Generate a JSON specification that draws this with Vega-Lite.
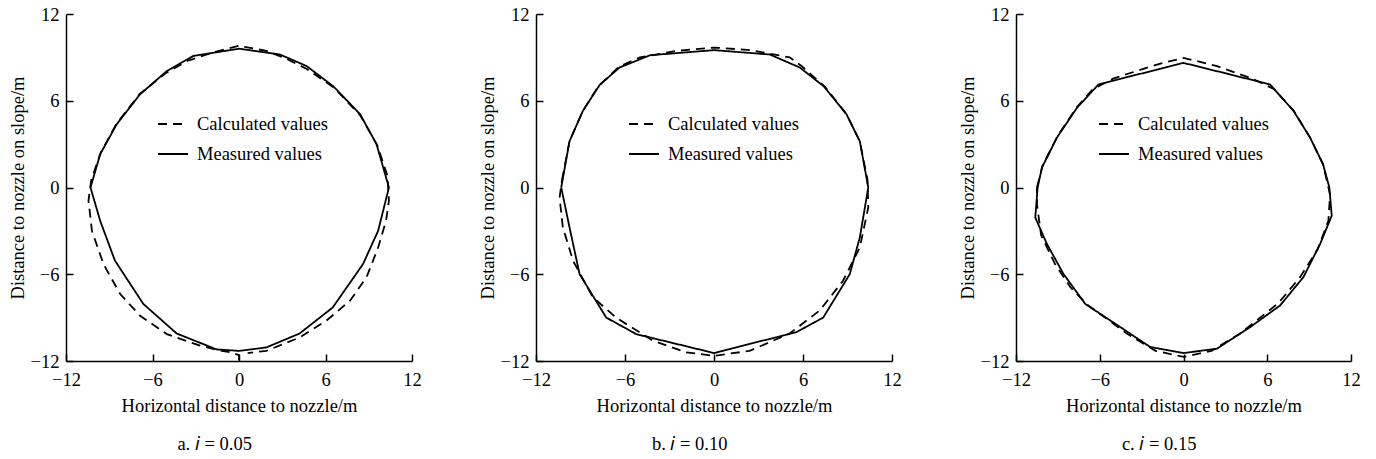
{
  "$schema": "https://vega.github.io/schema/vega-lite/v6.json",
  "padding": {"left": 8, "top": 5, "right": 5, "bottom": 5},
  "background": "white",
  "datasets": {
    "pts": [
      {"p":"a","s":"Measured values","o":1,"x":-10.3,"y":0},
      {"p":"a","s":"Measured values","o":2,"x":-9.63,"y":2.3},
      {"p":"a","s":"Measured values","o":3,"x":-8.48,"y":4.38},
      {"p":"a","s":"Measured values","o":4,"x":-6.86,"y":6.45},
      {"p":"a","s":"Measured values","o":5,"x":-5.0,"y":8.06},
      {"p":"a","s":"Measured values","o":6,"x":-3.16,"y":9.1},
      {"p":"a","s":"Measured values","o":7,"x":0,"y":9.6},
      {"p":"a","s":"Measured values","o":8,"x":2.84,"y":9.2},
      {"p":"a","s":"Measured values","o":9,"x":4.69,"y":8.4},
      {"p":"a","s":"Measured values","o":10,"x":6.54,"y":7.0},
      {"p":"a","s":"Measured values","o":11,"x":8.4,"y":5.07},
      {"p":"a","s":"Measured values","o":12,"x":9.54,"y":3.0},
      {"p":"a","s":"Measured values","o":13,"x":10.4,"y":0},
      {"p":"a","s":"Measured values","o":14,"x":9.65,"y":-3.0},
      {"p":"a","s":"Measured values","o":15,"x":8.6,"y":-5.3},
      {"p":"a","s":"Measured values","o":16,"x":6.5,"y":-8.3},
      {"p":"a","s":"Measured values","o":17,"x":4.2,"y":-10.1},
      {"p":"a","s":"Measured values","o":18,"x":1.9,"y":-11.06},
      {"p":"a","s":"Measured values","o":19,"x":0,"y":-11.3},
      {"p":"a","s":"Measured values","o":20,"x":-1.55,"y":-11.2},
      {"p":"a","s":"Measured values","o":21,"x":-4.32,"y":-10.1},
      {"p":"a","s":"Measured values","o":22,"x":-6.63,"y":-8.06},
      {"p":"a","s":"Measured values","o":23,"x":-8.6,"y":-5.07},
      {"p":"a","s":"Measured values","o":24,"x":-9.63,"y":-2.3},
      {"p":"a","s":"Measured values","o":25,"x":-10.3,"y":0},

      {"p":"a","s":"Calculated values","o":1,"x":0,"y":-11.95},
      {"p":"a","s":"Calculated values","o":2,"x":0,"y":-11.6},
      {"p":"a","s":"Calculated values","o":3,"x":-0.6,"y":-11.4},
      {"p":"a","s":"Calculated values","o":4,"x":-1.5,"y":-11.25},
      {"p":"a","s":"Calculated values","o":5,"x":-2.7,"y":-10.94},
      {"p":"a","s":"Calculated values","o":6,"x":-5.0,"y":-10.14},
      {"p":"a","s":"Calculated values","o":7,"x":-6.86,"y":-8.87},
      {"p":"a","s":"Calculated values","o":8,"x":-8.24,"y":-7.37},
      {"p":"a","s":"Calculated values","o":9,"x":-9.4,"y":-5.3},
      {"p":"a","s":"Calculated values","o":10,"x":-10.2,"y":-3.0},
      {"p":"a","s":"Calculated values","o":11,"x":-10.44,"y":-0.9},
      {"p":"a","s":"Calculated values","o":12,"x":-10.25,"y":0.5},
      {"p":"a","s":"Calculated values","o":13,"x":-9.6,"y":2.4},
      {"p":"a","s":"Calculated values","o":14,"x":-8.5,"y":4.4},
      {"p":"a","s":"Calculated values","o":15,"x":-6.9,"y":6.45},
      {"p":"a","s":"Calculated values","o":16,"x":-5.1,"y":7.9},
      {"p":"a","s":"Calculated values","o":17,"x":-3.6,"y":8.75},
      {"p":"a","s":"Calculated values","o":18,"x":-1.8,"y":9.35},
      {"p":"a","s":"Calculated values","o":19,"x":0,"y":9.8},
      {"p":"a","s":"Calculated values","o":20,"x":1.9,"y":9.45},
      {"p":"a","s":"Calculated values","o":21,"x":3.3,"y":8.9},
      {"p":"a","s":"Calculated values","o":22,"x":4.7,"y":8.2},
      {"p":"a","s":"Calculated values","o":23,"x":6.6,"y":6.9},
      {"p":"a","s":"Calculated values","o":24,"x":8.4,"y":5.0},
      {"p":"a","s":"Calculated values","o":25,"x":9.6,"y":2.9},
      {"p":"a","s":"Calculated values","o":26,"x":10.3,"y":0.8},
      {"p":"a","s":"Calculated values","o":27,"x":10.4,"y":-0.9},
      {"p":"a","s":"Calculated values","o":28,"x":10.2,"y":-2.3},
      {"p":"a","s":"Calculated values","o":29,"x":9.65,"y":-4.15},
      {"p":"a","s":"Calculated values","o":30,"x":8.85,"y":-6.2},
      {"p":"a","s":"Calculated values","o":31,"x":7.7,"y":-7.83},
      {"p":"a","s":"Calculated values","o":32,"x":6.07,"y":-9.2},
      {"p":"a","s":"Calculated values","o":33,"x":4.2,"y":-10.37},
      {"p":"a","s":"Calculated values","o":34,"x":1.9,"y":-11.3},
      {"p":"a","s":"Calculated values","o":35,"x":0.6,"y":-11.45},

      {"p":"b","s":"Measured values","o":1,"x":-10.3,"y":0},
      {"p":"b","s":"Measured values","o":2,"x":-9.74,"y":3.2},
      {"p":"b","s":"Measured values","o":3,"x":-8.84,"y":5.3},
      {"p":"b","s":"Measured values","o":4,"x":-7.7,"y":7.1},
      {"p":"b","s":"Measured values","o":5,"x":-6.37,"y":8.3},
      {"p":"b","s":"Measured values","o":6,"x":-4.3,"y":9.15},
      {"p":"b","s":"Measured values","o":7,"x":0,"y":9.5},
      {"p":"b","s":"Measured values","o":8,"x":3.76,"y":9.2},
      {"p":"b","s":"Measured values","o":9,"x":5.78,"y":8.3},
      {"p":"b","s":"Measured values","o":10,"x":7.4,"y":7.0},
      {"p":"b","s":"Measured values","o":11,"x":8.93,"y":5.07},
      {"p":"b","s":"Measured values","o":12,"x":9.83,"y":3.2},
      {"p":"b","s":"Measured values","o":13,"x":10.4,"y":0},
      {"p":"b","s":"Measured values","o":14,"x":9.83,"y":-3.46},
      {"p":"b","s":"Measured values","o":15,"x":9.15,"y":-6.0},
      {"p":"b","s":"Measured values","o":16,"x":7.36,"y":-9.0},
      {"p":"b","s":"Measured values","o":17,"x":5.56,"y":-10.0},
      {"p":"b","s":"Measured values","o":18,"x":0,"y":-11.45},
      {"p":"b","s":"Measured values","o":19,"x":-5.24,"y":-10.14},
      {"p":"b","s":"Measured values","o":20,"x":-7.26,"y":-9.0},
      {"p":"b","s":"Measured values","o":21,"x":-9.06,"y":-6.0},
      {"p":"b","s":"Measured values","o":22,"x":-9.74,"y":-2.76},
      {"p":"b","s":"Measured values","o":23,"x":-10.3,"y":0},

      {"p":"b","s":"Calculated values","o":1,"x":-10.25,"y":0.5},
      {"p":"b","s":"Calculated values","o":2,"x":-9.74,"y":3.2},
      {"p":"b","s":"Calculated values","o":3,"x":-8.84,"y":5.3},
      {"p":"b","s":"Calculated values","o":4,"x":-7.8,"y":7.0},
      {"p":"b","s":"Calculated values","o":5,"x":-6.4,"y":8.35},
      {"p":"b","s":"Calculated values","o":6,"x":-5.0,"y":9.0},
      {"p":"b","s":"Calculated values","o":7,"x":-2.5,"y":9.45},
      {"p":"b","s":"Calculated values","o":8,"x":0,"y":9.68},
      {"p":"b","s":"Calculated values","o":9,"x":2.5,"y":9.5},
      {"p":"b","s":"Calculated values","o":10,"x":5.1,"y":9.0},
      {"p":"b","s":"Calculated values","o":11,"x":5.9,"y":8.4},
      {"p":"b","s":"Calculated values","o":12,"x":7.5,"y":6.95},
      {"p":"b","s":"Calculated values","o":13,"x":8.93,"y":5.07},
      {"p":"b","s":"Calculated values","o":14,"x":9.83,"y":3.2},
      {"p":"b","s":"Calculated values","o":15,"x":10.35,"y":0.5},
      {"p":"b","s":"Calculated values","o":16,"x":10.4,"y":-1.38},
      {"p":"b","s":"Calculated values","o":17,"x":9.83,"y":-4.15},
      {"p":"b","s":"Calculated values","o":18,"x":8.7,"y":-6.45},
      {"p":"b","s":"Calculated values","o":19,"x":7.13,"y":-8.5},
      {"p":"b","s":"Calculated values","o":20,"x":5.1,"y":-10.1},
      {"p":"b","s":"Calculated values","o":21,"x":2.4,"y":-11.3},
      {"p":"b","s":"Calculated values","o":22,"x":0,"y":-11.64},
      {"p":"b","s":"Calculated values","o":23,"x":-1.87,"y":-11.4},
      {"p":"b","s":"Calculated values","o":24,"x":-4.12,"y":-10.6},
      {"p":"b","s":"Calculated values","o":25,"x":-6.6,"y":-9.0},
      {"p":"b","s":"Calculated values","o":26,"x":-8.16,"y":-7.6},
      {"p":"b","s":"Calculated values","o":27,"x":-9.5,"y":-5.07},
      {"p":"b","s":"Calculated values","o":28,"x":-10.19,"y":-2.76},
      {"p":"b","s":"Calculated values","o":29,"x":-10.41,"y":-0.7},
      {"p":"b","s":"Calculated values","o":30,"x":-10.25,"y":0.5},

      {"p":"c","s":"Measured values","o":1,"x":-10.45,"y":0},
      {"p":"c","s":"Measured values","o":2,"x":-10.14,"y":1.38},
      {"p":"c","s":"Measured values","o":3,"x":-9.07,"y":3.45},
      {"p":"c","s":"Measured values","o":4,"x":-7.64,"y":5.5},
      {"p":"c","s":"Measured values","o":5,"x":-6.09,"y":7.13},
      {"p":"c","s":"Measured values","o":6,"x":0,"y":8.62},
      {"p":"c","s":"Measured values","o":7,"x":6.2,"y":7.13},
      {"p":"c","s":"Measured values","o":8,"x":7.88,"y":5.3},
      {"p":"c","s":"Measured values","o":9,"x":9.07,"y":3.45},
      {"p":"c","s":"Measured values","o":10,"x":10.0,"y":1.6},
      {"p":"c","s":"Measured values","o":11,"x":10.45,"y":0},
      {"p":"c","s":"Measured values","o":12,"x":10.62,"y":-1.95},
      {"p":"c","s":"Measured values","o":13,"x":9.79,"y":-3.9},
      {"p":"c","s":"Measured values","o":14,"x":8.59,"y":-6.2},
      {"p":"c","s":"Measured values","o":15,"x":6.92,"y":-8.16},
      {"p":"c","s":"Measured values","o":16,"x":4.77,"y":-9.66},
      {"p":"c","s":"Measured values","o":17,"x":2.39,"y":-11.15},
      {"p":"c","s":"Measured values","o":18,"x":0,"y":-11.45},
      {"p":"c","s":"Measured values","o":19,"x":-2.39,"y":-11.03},
      {"p":"c","s":"Measured values","o":20,"x":-4.77,"y":-9.5},
      {"p":"c","s":"Measured values","o":21,"x":-7.04,"y":-8.05},
      {"p":"c","s":"Measured values","o":22,"x":-8.6,"y":-5.98},
      {"p":"c","s":"Measured values","o":23,"x":-9.79,"y":-3.9},
      {"p":"c","s":"Measured values","o":24,"x":-10.62,"y":-2.07},
      {"p":"c","s":"Measured values","o":25,"x":-10.45,"y":0},

      {"p":"c","s":"Calculated values","o":1,"x":-10.5,"y":0},
      {"p":"c","s":"Calculated values","o":2,"x":-10.1,"y":1.5},
      {"p":"c","s":"Calculated values","o":3,"x":-9.0,"y":3.6},
      {"p":"c","s":"Calculated values","o":4,"x":-7.6,"y":5.6},
      {"p":"c","s":"Calculated values","o":5,"x":-6.5,"y":6.8},
      {"p":"c","s":"Calculated values","o":6,"x":-5.0,"y":7.55},
      {"p":"c","s":"Calculated values","o":7,"x":-1.9,"y":8.5},
      {"p":"c","s":"Calculated values","o":8,"x":0,"y":8.97},
      {"p":"c","s":"Calculated values","o":9,"x":2.4,"y":8.4},
      {"p":"c","s":"Calculated values","o":10,"x":5.0,"y":7.5},
      {"p":"c","s":"Calculated values","o":11,"x":6.5,"y":6.8},
      {"p":"c","s":"Calculated values","o":12,"x":7.9,"y":5.3},
      {"p":"c","s":"Calculated values","o":13,"x":9.07,"y":3.45},
      {"p":"c","s":"Calculated values","o":14,"x":10.0,"y":1.6},
      {"p":"c","s":"Calculated values","o":15,"x":10.5,"y":-0.5},
      {"p":"c","s":"Calculated values","o":16,"x":10.38,"y":-2.3},
      {"p":"c","s":"Calculated values","o":17,"x":9.6,"y":-4.3},
      {"p":"c","s":"Calculated values","o":18,"x":8.35,"y":-6.2},
      {"p":"c","s":"Calculated values","o":19,"x":6.8,"y":-8.0},
      {"p":"c","s":"Calculated values","o":20,"x":4.06,"y":-10.1},
      {"p":"c","s":"Calculated values","o":21,"x":2.0,"y":-11.3},
      {"p":"c","s":"Calculated values","o":22,"x":0,"y":-11.72},
      {"p":"c","s":"Calculated values","o":23,"x":-2.0,"y":-11.3},
      {"p":"c","s":"Calculated values","o":24,"x":-4.06,"y":-10.1},
      {"p":"c","s":"Calculated values","o":25,"x":-6.9,"y":-8.1},
      {"p":"c","s":"Calculated values","o":26,"x":-8.1,"y":-6.9},
      {"p":"c","s":"Calculated values","o":27,"x":-9.2,"y":-5.3},
      {"p":"c","s":"Calculated values","o":28,"x":-10.2,"y":-3.3},
      {"p":"c","s":"Calculated values","o":29,"x":-10.5,"y":-1.15},
      {"p":"c","s":"Calculated values","o":30,"x":-10.5,"y":0}
    ]
  },
  "config": {
    "font": "Liberation Serif",
    "view": {"stroke": null},
    "axis": {
      "domainColor": "black", "domainWidth": 1.5,
      "tickColor": "black", "tickWidth": 1.5, "tickSize": -7,
      "grid": false,
      "labelFont": "Liberation Serif", "labelFontSize": 18.5, "labelColor": "black",
      "titleFont": "Liberation Serif", "titleFontSize": 18.5, "titleFontWeight": "normal", "titleColor": "black"
    },
    "axisX": {"labelPadding": 16, "titlePadding": 8, "labelFlush": false},
    "axisY": {"labelPadding": 14, "titlePadding": 3, "labelFlush": false},
    "legend": {
      "labelFont": "Liberation Serif", "labelFontSize": 18.5, "labelColor": "black",
      "symbolType": "stroke", "symbolSize": 900, "symbolStrokeWidth": 2, "symbolStrokeColor": "black",
      "labelOffset": 8, "rowPadding": 4, "padding": 0
    },
    "title": {"font": "Liberation Serif", "fontSize": 18.5, "fontWeight": "normal", "color": "black"}
  },
  "spacing": 56,
  "resolve": {"scale": {"strokeDash": "independent"}, "legend": {"strokeDash": "independent"}},
  "hconcat": [
    {
      "width": 346, "height": 347,
      "data": {"name": "pts"},
      "transform": [{"filter": "datum.p === 'a'"}],
      "title": {"text": "a. 𝑖 = 0.05", "orient": "bottom", "anchor": "middle", "frame": "bounds", "offset": 20},
      "mark": {"type": "line", "color": "black", "strokeWidth": 1.8},
      "encoding": {
        "x": {"field": "x", "type": "quantitative", "scale": {"domain": [-12, 12], "nice": false, "zero": false}, "axis": {"values": [-12, -6, 0, 6, 12], "title": "Horizontal distance to nozzle/m"}},
        "y": {"field": "y", "type": "quantitative", "scale": {"domain": [-12, 12], "nice": false, "zero": false}, "axis": {"values": [-12, -6, 0, 6, 12], "title": "Distance to nozzle on slope/m"}},
        "strokeDash": {"field": "s", "type": "nominal", "scale": {"domain": ["Calculated values", "Measured values"], "range": [[9, 6], [1, 0]]}, "legend": {"title": null, "orient": "none", "legendX": 91, "legendY": 94}},
        "order": {"field": "o", "type": "quantitative"}
      }
    },
    {
      "width": 356, "height": 347,
      "data": {"name": "pts"},
      "transform": [{"filter": "datum.p === 'b'"}],
      "title": {"text": "b. 𝑖 = 0.10", "orient": "bottom", "anchor": "middle", "frame": "bounds", "offset": 20},
      "mark": {"type": "line", "color": "black", "strokeWidth": 1.8},
      "encoding": {
        "x": {"field": "x", "type": "quantitative", "scale": {"domain": [-12, 12], "nice": false, "zero": false}, "axis": {"values": [-12, -6, 0, 6, 12], "title": "Horizontal distance to nozzle/m"}},
        "y": {"field": "y", "type": "quantitative", "scale": {"domain": [-12, 12], "nice": false, "zero": false}, "axis": {"values": [-12, -6, 0, 6, 12], "title": "Distance to nozzle on slope/m"}},
        "strokeDash": {"field": "s", "type": "nominal", "scale": {"domain": ["Calculated values", "Measured values"], "range": [[9, 6], [1, 0]]}, "legend": {"title": null, "orient": "none", "legendX": 92, "legendY": 94}},
        "order": {"field": "o", "type": "quantitative"}
      }
    },
    {
      "width": 335, "height": 347,
      "data": {"name": "pts"},
      "transform": [{"filter": "datum.p === 'c'"}],
      "title": {"text": "c. 𝑖 = 0.15", "orient": "bottom", "anchor": "middle", "frame": "bounds", "offset": 20},
      "mark": {"type": "line", "color": "black", "strokeWidth": 1.8},
      "encoding": {
        "x": {"field": "x", "type": "quantitative", "scale": {"domain": [-12, 12], "nice": false, "zero": false}, "axis": {"values": [-12, -6, 0, 6, 12], "title": "Horizontal distance to nozzle/m"}},
        "y": {"field": "y", "type": "quantitative", "scale": {"domain": [-12, 12], "nice": false, "zero": false}, "axis": {"values": [-12, -6, 0, 6, 12], "title": "Distance to nozzle on slope/m"}},
        "strokeDash": {"field": "s", "type": "nominal", "scale": {"domain": ["Calculated values", "Measured values"], "range": [[9, 6], [1, 0]]}, "legend": {"title": null, "orient": "none", "legendX": 82, "legendY": 94}},
        "order": {"field": "o", "type": "quantitative"}
      }
    }
  ]
}
